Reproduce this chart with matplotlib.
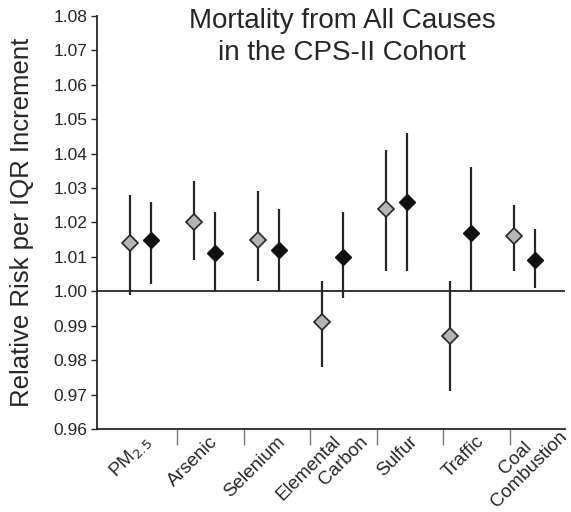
#!/usr/bin/env python3
"""Relative risk per IQR increment, mortality from all causes (CPS-II)."""

import matplotlib

matplotlib.use("Agg")
import matplotlib.pyplot as plt
import numpy as np

plt.rcParams["font.family"] = ["Liberation Sans", "DejaVu Sans"]

categories = ["PM$_{2.5}$", "Arsenic", "Selenium", "Elemental\nCarbon",
              "Sulfur", "Traffic", "Coal\nCombustion"]

# gray (open) series
rr_gray = [1.014, 1.020, 1.015, 0.991, 1.024, 0.987, 1.016]
lo_gray = [0.999, 1.009, 1.003, 0.978, 1.006, 0.971, 1.006]
hi_gray = [1.028, 1.032, 1.029, 1.003, 1.041, 1.003, 1.025]

# black (filled) series
rr_black = [1.015, 1.011, 1.012, 1.010, 1.026, 1.017, 1.009]
lo_black = [1.002, 1.000, 1.000, 0.998, 1.006, 1.000, 1.001]
hi_black = [1.026, 1.023, 1.024, 1.023, 1.046, 1.036, 1.018]

y_ticks = [0.96, 0.97, 0.98, 0.99, 1.00, 1.01, 1.02, 1.03, 1.04, 1.05, 1.06, 1.07, 1.08]

INK = "#262626"
# per-line nudges for the two-line labels (data x, pixels y)
LINE_NUDGE = {"Elemental": (-0.16, 0), "Carbon": (0.27, 0),
              "Coal": (-0.30, -5), "Combustion": (0.26, 5)}


def main() -> None:
    fig = plt.figure(figsize=(5.71, 5.12), dpi=100)
    ax = fig.add_axes([0.170, 0.162, 0.819, 0.807])

    x = np.arange(len(categories))
    off = 0.165
    gray = np.array(rr_gray)
    black = np.array(rr_black)

    ax.axhline(1.0, color=INK, lw=1.3, zorder=1)

    ax.errorbar(x - off, gray,
                yerr=[gray - np.array(lo_gray), np.array(hi_gray) - gray],
                fmt="D", ms=7.8, mfc="#b5b5b5", mec=INK, mew=1.2,
                ecolor=INK, elinewidth=1.6, capsize=0, zorder=3)
    ax.errorbar(x + off, black,
                yerr=[black - np.array(lo_black), np.array(hi_black) - black],
                fmt="D", ms=8.2, mfc="#111111", mec="#111111", mew=1.0,
                ecolor=INK, elinewidth=1.6, capsize=0, zorder=3)

    ax.set_xlim(-0.68, 6.63)
    ax.set_ylim(0.96, 1.08)
    ax.set_yticks(y_ticks)
    ax.set_yticklabels([f"{v:.2f}" for v in y_ticks], fontsize=12.5, color=INK)
    ax.tick_params(axis="y", direction="out", length=4, width=1.0, color=INK, pad=3)

    # separator ticks between groups, labels placed by hand
    seps = 0.57 + 1.04 * x
    ax.set_xticks(seps[:-1])
    ax.set_xticklabels([])
    ax.tick_params(axis="x", direction="out", length=11.5, width=1.0, color="#777777")
    for sx, name in zip(seps, categories):
        for line in name.split("\n"):
            dx, dy = LINE_NUDGE.get(line, (0.0, 0))
            ax.annotate(line, xy=(sx - 0.44 + dx, 0.9571), xytext=(0, dy),
                        textcoords="offset pixels", rotation=45,
                        rotation_mode="anchor", ha="right", va="center",
                        fontsize=13.6, color=INK, annotation_clip=False)

    for side in ("top", "right"):
        ax.spines[side].set_visible(False)
    for side in ("left", "bottom"):
        ax.spines[side].set_color(INK)
        ax.spines[side].set_linewidth(1.3)

    ax.set_ylabel("Relative Risk per IQR Increment", fontsize=18.5, color=INK)
    ax.yaxis.set_label_coords(-0.135, 0.5)
    fig.text(0.599, 0.984, "Mortality from All Causes\nin the CPS-II Cohort",
             ha="center", va="top", fontsize=20, color=INK, linespacing=1.28)

    fig.savefig("out.png", dpi=100, facecolor="white")
    plt.close(fig)


if __name__ == "__main__":
    main()
